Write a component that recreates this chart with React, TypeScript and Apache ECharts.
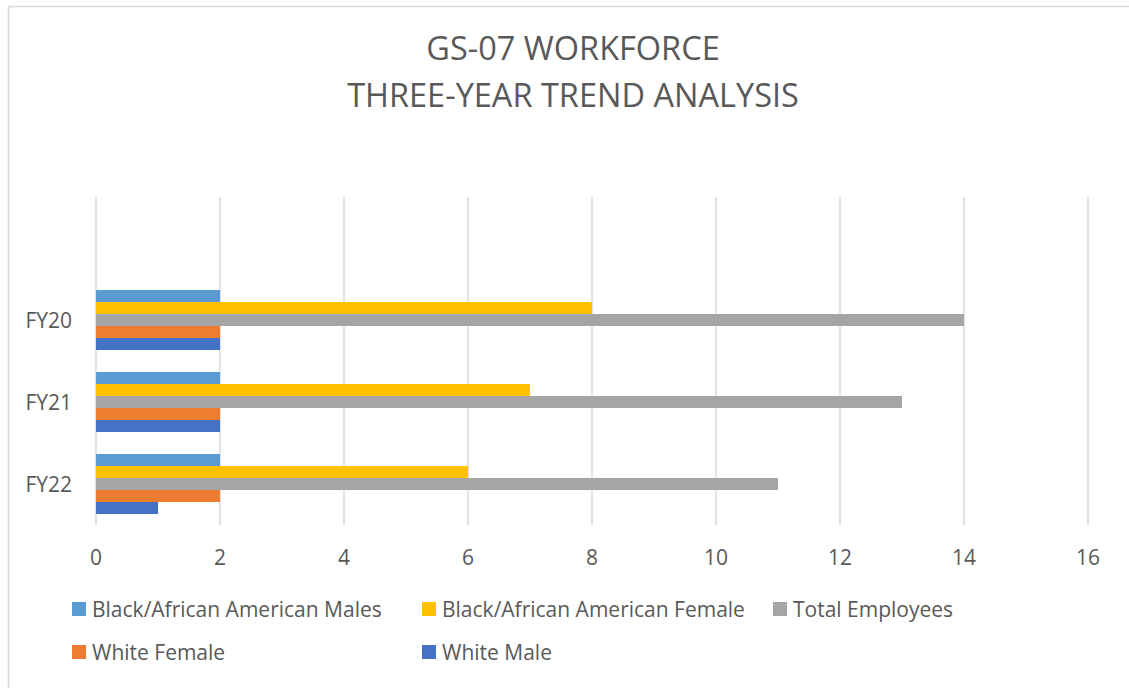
import React, { useEffect, useRef } from "react";
import * as echarts from "echarts";

const categories = ["", "FY20", "FY21", "FY22"];
const blackMales = [null, 2, 2, 2];
const blackFemale = [null, 8, 7, 6];
const totalEmployees = [null, 14, 13, 11];
const whiteFemale = [null, 2, 2, 2];
const whiteMale = [null, 2, 2, 1];
const xTicks = { min: 0, max: 16, interval: 2 };

const seriesNames = [
  "Black/African American Males",
  "Black/African American Female",
  "Total Employees",
  "White Female",
  "White Male",
];
const seriesColors = ["#5B9BD5", "#FFC000", "#A5A5A5", "#ED7D31", "#4472C4"];
const seriesData = [blackMales, blackFemale, totalEmployees, whiteFemale, whiteMale];

const FONT = "'Open Sans', sans-serif";
const TEXT = "#595959";

const legendPos = [
  { left: 72, top: 598 },
  { left: 422, top: 598 },
  { left: 773, top: 598 },
  { left: 72, top: 641 },
  { left: 422, top: 641 },
];

export default function App() {
  const ref = useRef<HTMLDivElement>(null);
  useEffect(() => {
    if (!ref.current) return;
    const chart = echarts.init(ref.current, null, { renderer: "svg" });
    chart.setOption({
      animation: false,
      backgroundColor: "#ffffff",
      textStyle: { fontFamily: FONT },
      title: {
        text: "GS-07 WORKFORCE\nTHREE-YEAR TREND ANALYSIS",
        left: 568,
        textAlign: "center",
        top: 19,
        textStyle: {
          fontFamily: FONT,
          fontSize: 32.5,
          fontWeight: "normal",
          color: TEXT,
          lineHeight: 47,
        },
      },
      graphic: [
        {
          type: "rect",
          shape: { x: 8.5, y: 6.5, width: 1200, height: 800 },
          style: { fill: "none", stroke: "#d9d9d9", lineWidth: 1.5 },
          silent: true,
        },
      ],
      grid: { left: 96, right: 41, top: 197, bottom: 163, containLabel: false },
      xAxis: {
        type: "value",
        min: xTicks.min,
        max: xTicks.max,
        interval: xTicks.interval,
        axisLine: { show: false },
        axisTick: { show: false },
        splitLine: { show: true, lineStyle: { color: "#d9d9d9", width: 1.5 } },
        axisLabel: { fontFamily: FONT, fontSize: 21, color: TEXT, margin: 21 },
      },
      yAxis: {
        type: "category",
        inverse: true,
        data: categories,
        axisLine: { show: false },
        axisTick: { show: false },
        axisLabel: { fontFamily: FONT, fontSize: 21, color: TEXT, margin: 24 },
      },
      legend: seriesNames.map((n, i) => ({
        data: [n],
        left: legendPos[i].left,
        top: legendPos[i].top,
        padding: 0,
        itemWidth: 14,
        itemHeight: 14,
        itemGap: 0,
        icon: "rect",
        selectedMode: false,
        textStyle: { fontFamily: FONT, fontSize: 21, color: TEXT, lineHeight: 22, padding: [0, 0, 0, 1] },
      })),
      series: seriesNames.map((n, i) => ({
        name: n,
        type: "bar",
        data: seriesData[i],
        barWidth: 12,
        barGap: "0%",
        itemStyle: { color: seriesColors[i] },
      })),
    });
    return () => chart.dispose();
  }, []);
  return (
    <div
      ref={ref}
      style={{ position: "absolute", left: 0, top: 0, width: 1129, height: 688 }}
    />
  );
}
